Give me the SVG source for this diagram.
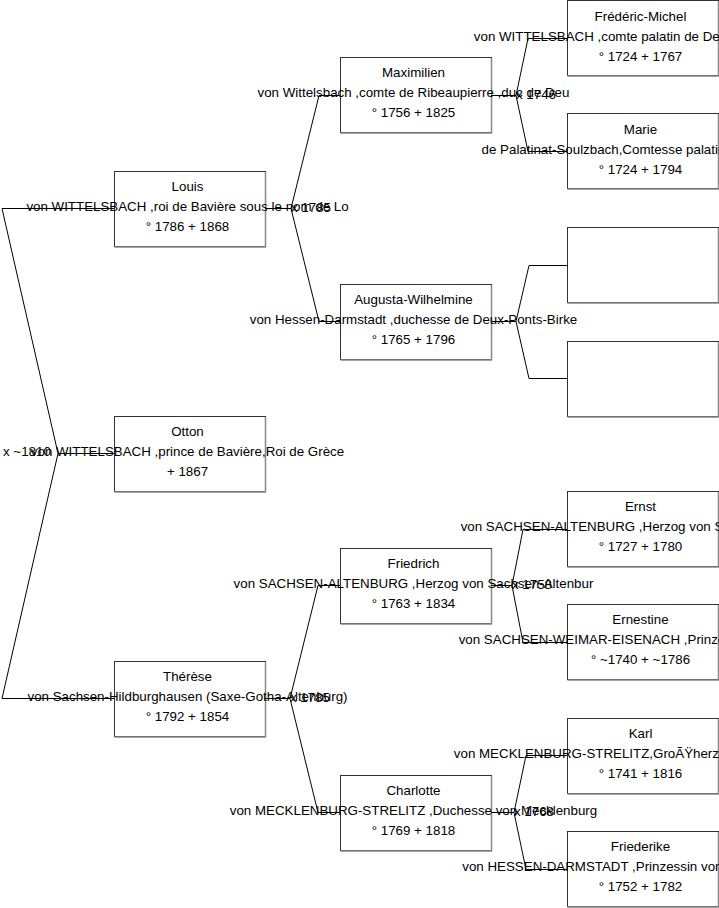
<svg xmlns="http://www.w3.org/2000/svg" width="719" height="908" viewBox="0 0 719 908">
<style>
.b{fill:#fff;stroke:#333;stroke-width:1}
.s{fill:none;stroke:#888;stroke-width:1.5}
.t{font-family:"Liberation Sans",Arial,sans-serif;font-size:13.33px;fill:#000;text-anchor:middle}
.m{font-family:"Liberation Sans",Arial,sans-serif;font-size:13.33px;fill:#000}
.c{fill:none;stroke:#000;stroke-width:1}
</style>
<rect width="719" height="908" fill="#fff"/>
<g id="louis"><rect class="b" x="114.5" y="171.5" width="151" height="75"/><path class="s" d="M114.5 247h151V172"/>
<text class="t" x="187.5" y="191">Louis</text><text class="t" x="187.5" y="211">von WITTELSBACH ,roi de Bavière sous le nom de Lo</text><text class="t" x="187.5" y="231">° 1786 + 1868</text></g>
<g id="otton"><rect class="b" x="114.5" y="416.5" width="151" height="75"/><path class="s" d="M114.5 492h151V417"/>
<text class="t" x="187.5" y="436">Otton</text><text class="t" x="187.5" y="456">von WITTELSBACH ,prince de Bavière,Roi de Grèce</text><text class="t" x="187.5" y="476">+ 1867</text></g>
<g id="therese"><rect class="b" x="114.5" y="661.5" width="151" height="75"/><path class="s" d="M114.5 737h151V662"/>
<text class="t" x="187.5" y="681">Thérèse</text><text class="t" x="187.5" y="701">von Sachsen-Hildburghausen (Saxe-Gotha-Altenburg)</text><text class="t" x="187.5" y="721">° 1792 + 1854</text></g>
<g id="maximilien"><rect class="b" x="340.5" y="57.5" width="151" height="75"/><path class="s" d="M340.5 133h151V58"/>
<text class="t" x="413.5" y="77">Maximilien</text><text class="t" x="413.5" y="97">von Wittelsbach ,comte de Ribeaupierre ,duc de Deu</text><text class="t" x="413.5" y="117">° 1756 + 1825</text></g>
<g id="augusta"><rect class="b" x="340.5" y="284.5" width="151" height="75"/><path class="s" d="M340.5 360h151V285"/>
<text class="t" x="413.5" y="304">Augusta-Wilhelmine</text><text class="t" x="413.5" y="324">von Hessen-Darmstadt ,duchesse de Deux-Ponts-Birke</text><text class="t" x="413.5" y="344">° 1765 + 1796</text></g>
<g id="friedrich"><rect class="b" x="340.5" y="548.5" width="151" height="75"/><path class="s" d="M340.5 624h151V549"/>
<text class="t" x="413.5" y="568">Friedrich</text><text class="t" x="413.5" y="588">von SACHSEN-ALTENBURG ,Herzog von Sachsen-Altenbur</text><text class="t" x="413.5" y="608">° 1763 + 1834</text></g>
<g id="charlotte"><rect class="b" x="340.5" y="775.5" width="151" height="75"/><path class="s" d="M340.5 851h151V776"/>
<text class="t" x="413.5" y="795">Charlotte</text><text class="t" x="413.5" y="815">von MECKLENBURG-STRELITZ ,Duchesse von Mecklenburg</text><text class="t" x="413.5" y="835">° 1769 + 1818</text></g>
<g id="frederic-michel"><rect class="b" x="567.5" y="0.5" width="151" height="75"/><path class="s" d="M567.5 76h151V1"/>
<text class="t" x="640.5" y="21">Frédéric-Michel</text><text class="t" x="640.5" y="41">von WITTELSBACH ,comte palatin de Deux-Ponts-Birke</text><text class="t" x="640.5" y="61">° 1724 + 1767</text></g>
<g id="marie"><rect class="b" x="567.5" y="113.5" width="151" height="75"/><path class="s" d="M567.5 189h151V114"/>
<text class="t" x="640.5" y="134">Marie</text><text class="t" x="640.5" y="154">de Palatinat-Soulzbach,Comtesse palatine de Deux-P</text><text class="t" x="640.5" y="174">° 1724 + 1794</text></g>
<g id="empty1"><rect class="b" x="567.5" y="227.5" width="151" height="75"/><path class="s" d="M567.5 303h151V228"/></g>
<g id="empty2"><rect class="b" x="567.5" y="341.5" width="151" height="75"/><path class="s" d="M567.5 417h151V342"/></g>
<g id="ernst"><rect class="b" x="567.5" y="491.5" width="151" height="75"/><path class="s" d="M567.5 567h151V492"/>
<text class="t" x="640.5" y="511">Ernst</text><text class="t" x="640.5" y="531">von SACHSEN-ALTENBURG ,Herzog von Sachsen-Hildburg</text><text class="t" x="640.5" y="551">° 1727 + 1780</text></g>
<g id="ernestine"><rect class="b" x="567.5" y="604.5" width="151" height="75"/><path class="s" d="M567.5 680h151V605"/>
<text class="t" x="640.5" y="624">Ernestine</text><text class="t" x="640.5" y="644">von SACHSEN-WEIMAR-EISENACH ,Prinzessin von Sachse</text><text class="t" x="640.5" y="664">° ~1740 + ~1786</text></g>
<g id="karl"><rect class="b" x="567.5" y="718.5" width="151" height="75"/><path class="s" d="M567.5 794h151V719"/>
<text class="t" x="640.5" y="738">Karl</text><text class="t" x="640.5" y="758">von MECKLENBURG-STRELITZ,GroÃŸherzog von Mecklenbu</text><text class="t" x="640.5" y="778">° 1741 + 1816</text></g>
<g id="friederike"><rect class="b" x="567.5" y="831.5" width="151" height="75"/><path class="s" d="M567.5 907h151V832"/>
<text class="t" x="640.5" y="851">Friederike</text><text class="t" x="640.5" y="871">von HESSEN-DARMSTADT ,Prinzessin von Hessen-Darmst</text><text class="t" x="640.5" y="891">° 1752 + 1782</text></g>
<g id="connectors">
<path class="c" d="M114 453.5H58L2 208.5H114M58 453.5L2 698.5H114"/>
<path class="c" d="M265 208.5H291L319 95.5H340M291 208.5L319 321.5H340"/>
<path class="c" d="M265 698.5H290L318 585.5H340M290 698.5L318 812.5H340"/>
<path class="c" d="M491 95.5H516L528 38.5H567M516 95.5L528 151.5H567"/>
<path class="c" d="M491 321.5H516L529 265.5H567M516 321.5L529 378.5H567"/>
<path class="c" d="M491 585.5H512L523 529.5H567M512 585.5L523 642.5H567"/>
<path class="c" d="M491 812.5H514L526 755.5H567M514 812.5L526 869.5H567"/>
</g>
<g id="marriages">
<text class="m" x="3" y="456">x ~1810</text>
<text class="m" x="291" y="212">x 1785</text>
<text class="m" x="290" y="702">x 1785</text>
<text class="m" x="516" y="99">x 1746</text>
<text class="m" x="512" y="589">x 1758</text>
<text class="m" x="514" y="816">x 1768</text>
</g>
</svg>
